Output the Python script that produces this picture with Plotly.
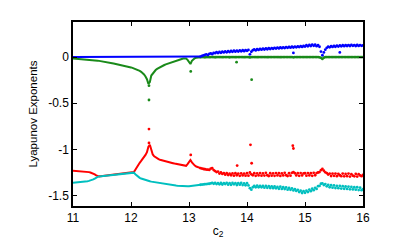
import numpy as np
import plotly.graph_objects as go

# c2 grid (11.00 .. 16.00, step 0.025)
c2 = np.round(np.linspace(11.0, 16.0, 201), 3)

lam1 = [  # blue
    0,0,0,0,0,0,0,0,0,0, 0,0,0,0,0,0,0,0,0,0, 0,0,0,0,0,0,0,0,0,0, 0,0,0,0,0,0,0,0,0,0,
    0,0,0,0,0,0,0,0,0,0, 0,0,0,0,0,0,0,0,0,0, 0,0,0,0,0,0,0,0,0,0, 0,0,0,0,0,0,0,0,0,0,
    0,0,0,0,0,0,0,0.002,0.006,0.012, 0.018,0.024,0.03,0.022,0.034,0.04,0.032,0.046,0.042,0.054,
    0.043,0.055,0.046,0.058,0.05,0.061,0.052,0.064,0.054,0.066, 0.057,0.069,0.059,0.07,0.06,0.072,0.062,0.074,0.064,0.076,
    0.068,0.078,0.03,0.058,0.074,0.082,0.072,0.085,0.078,0.088, 0.08,0.09,0.082,0.093,0.085,0.096,0.087,0.098,0.09,0.1,
    0.092,0.102,0.094,0.104,0.096,0.106,0.098,0.108,0.1,0.11, 0.102,0.112,0.104,0.114,0.106,0.116,0.108,0.118,0.11,0.12,
    0.114,0.128,0.116,0.132,0.12,0.136,0.122,0.134,0.118,0.13, 0.112,0.06,0.02,0.05,0.08,0.1,0.112,0.106,0.118,0.11,
    0.12,0.112,0.124,0.114,0.126,0.116,0.128,0.118,0.13,0.12, 0.13,0.12,0.132,0.122,0.13,0.12,0.131,0.121,0.13,0.122,
    0.126,
]

lam2 = [  # green
    -0.015,-0.016,-0.017,-0.018,-0.019,-0.02,-0.021,-0.022,-0.023,-0.025,
    -0.026,-0.028,-0.029,-0.031,-0.033,-0.035,-0.037,-0.039,-0.041,-0.043,
    -0.046,-0.048,-0.051,-0.054,-0.057,-0.06,-0.063,-0.066,-0.069,-0.072,
    -0.075,-0.078,-0.081,-0.085,-0.088,-0.092,-0.096,-0.1,-0.104,-0.108,
    -0.112,-0.117,-0.122,-0.128,-0.135,-0.142,-0.15,-0.16,-0.172,-0.188,
    -0.21,-0.24,-0.29,-0.27,-0.2,-0.175,-0.155,-0.14,-0.128,-0.118,
    -0.108,-0.1,-0.093,-0.086,-0.079,-0.073,-0.067,-0.061,-0.055,-0.05,
    -0.045,-0.04,-0.035,-0.03,-0.025,-0.02,-0.015,-0.012,-0.015,-0.03,
    -0.06,-0.075,-0.04,-0.022,-0.012,-0.008,-0.005,-0.003,-0.001,0,
    0,-0.002,0,0,-0.001,0,0,0,-0.002,0, 0,0,0,-0.001,0,0,0,0,-0.002,0,
    0,0,-0.001,0,0,0,0,0,-0.001,0,
    0,0,-0.004,0,0,0,0,-0.001,0,0, 0,0,0,0,-0.001,0,0,0,0,0,
    0,0,0,-0.001,0,0,0,0,0,0, 0,0,-0.003,0,0,0,0,0,0,0,
    0,0,0,0,0,0,0,0,0,0, -0.003,-0.008,-0.02,-0.006,0,0,0,0,0,0,
    0,0,0,0,0,0,0,0,0,0, 0,0,0,0,0,0,0,0,0,0,
    0,
]

lam3 = [  # red
    -1.23,-1.231,-1.232,-1.233,-1.234,-1.235,-1.236,-1.237,-1.239,-1.241,
    -1.243,-1.246,-1.25,-1.255,-1.262,-1.271,-1.282,-1.29,-1.292,-1.29,
    -1.288,-1.286,-1.285,-1.283,-1.281,-1.279,-1.278,-1.276,-1.274,-1.273,
    -1.271,-1.269,-1.267,-1.266,-1.264,-1.262,-1.26,-1.259,-1.257,-1.255,
    -1.253,-1.251,-1.245,-1.22,-1.19,-1.165,-1.145,-1.125,-1.105,-1.085,
    -1.06,-1.03,-0.97,-0.95,-1.02,-1.055,-1.075,-1.088,-1.098,-1.106,
    -1.112,-1.117,-1.121,-1.125,-1.129,-1.133,-1.137,-1.141,-1.145,-1.149,
    -1.153,-1.157,-1.161,-1.165,-1.169,-1.173,-1.177,-1.18,-1.178,-1.16,
    -1.13,-1.115,-1.14,-1.16,-1.175,-1.185,-1.192,-1.198,-1.203,-1.208,
    -1.212,-1.215,-1.218,-1.22,-1.222,-1.208,-1.204,-1.224,-1.235,-1.246,
    -1.24,-1.262,-1.25,-1.266,-1.256,-1.274,-1.258,-1.278,-1.262,-1.28,
    -1.26,-1.284,-1.258,-1.28,-1.262,-1.286,-1.26,-1.282,-1.262,-1.284,
    -1.258,-1.284,-1.25,-1.27,-1.28,-1.258,-1.286,-1.26,-1.282,-1.256,
    -1.285,-1.26,-1.283,-1.254,-1.28,-1.288,-1.258,-1.284,-1.26,-1.286,
    -1.256,-1.282,-1.258,-1.287,-1.26,-1.282,-1.254,-1.28,-1.288,-1.258,
    -1.284,-1.254,-1.246,-1.258,-1.282,-1.258,-1.286,-1.256,-1.282,-1.26,
    -1.258,-1.284,-1.256,-1.282,-1.258,-1.286,-1.254,-1.28,-1.256,-1.25,
    -1.245,-1.225,-1.212,-1.23,-1.248,-1.256,-1.272,-1.262,-1.288,-1.262,
    -1.286,-1.262,-1.29,-1.264,-1.28,-1.29,-1.262,-1.292,-1.266,-1.29,
    -1.262,-1.294,-1.268,-1.284,-1.292,-1.266,-1.294,-1.268,-1.282,-1.29,
    -1.276,
]

lam4 = [  # cyan
    -1.36,-1.359,-1.358,-1.357,-1.356,-1.355,-1.353,-1.351,-1.349,-1.347,
    -1.344,-1.341,-1.337,-1.332,-1.325,-1.316,-1.305,-1.297,-1.294,-1.292,
    -1.29,-1.288,-1.287,-1.285,-1.283,-1.281,-1.28,-1.278,-1.276,-1.275,
    -1.273,-1.271,-1.269,-1.268,-1.266,-1.264,-1.262,-1.261,-1.259,-1.257,
    -1.255,-1.253,-1.252,-1.268,-1.285,-1.298,-1.308,-1.316,-1.322,-1.328,
    -1.333,-1.337,-1.341,-1.345,-1.349,-1.352,-1.355,-1.358,-1.361,-1.364,
    -1.366,-1.369,-1.371,-1.374,-1.376,-1.378,-1.381,-1.383,-1.385,-1.387,
    -1.389,-1.391,-1.393,-1.395,-1.397,-1.398,-1.4,-1.401,-1.401,-1.4,
    -1.398,-1.396,-1.395,-1.393,-1.391,-1.389,-1.387,-1.385,-1.383,-1.381,
    -1.379,-1.377,-1.376,-1.374,-1.372,-1.368,-1.362,-1.372,-1.364,-1.376,
    -1.366,-1.378,-1.364,-1.38,-1.366,-1.376,-1.362,-1.382,-1.366,-1.384,
    -1.364,-1.378,-1.366,-1.386,-1.366,-1.382,-1.364,-1.386,-1.368,-1.388,
    -1.366,-1.39,-1.42,-1.436,-1.41,-1.396,-1.41,-1.392,-1.41,-1.394,
    -1.41,-1.396,-1.414,-1.396,-1.416,-1.398,-1.418,-1.4,-1.42,-1.402,
    -1.422,-1.406,-1.426,-1.404,-1.428,-1.41,-1.43,-1.412,-1.436,-1.418,
    -1.438,-1.422,-1.444,-1.43,-1.45,-1.438,-1.462,-1.448,-1.472,-1.452,
    -1.47,-1.448,-1.462,-1.436,-1.452,-1.426,-1.442,-1.416,-1.428,-1.398,
    -1.396,-1.372,-1.368,-1.386,-1.376,-1.4,-1.384,-1.41,-1.388,-1.414,
    -1.39,-1.418,-1.394,-1.42,-1.396,-1.424,-1.398,-1.426,-1.402,-1.428,
    -1.404,-1.432,-1.406,-1.434,-1.41,-1.436,-1.41,-1.44,-1.414,-1.442,
    -1.43,
]

# isolated stray points
blue_out_x = [14.8, 15.6]
blue_out_y = [0.045, 0.05]
green_out_x = [12.31, 12.31, 13.03, 13.82, 14.08]
green_out_y = [-0.31, -0.465, -0.155, -0.055, -0.245]
red_out_x = [12.31, 12.31, 13.03, 13.83, 14.06, 14.08, 14.79, 14.8]
red_out_y = [-0.78, -0.93, -1.06, -1.175, -0.95, -1.15, -0.96, -0.99]

x_ticks = [11, 12, 13, 14, 15, 16]
y_ticks = [0, -0.5, -1, -1.5]
y_tick_text = ["0", "-0.5", "-1", "-1.5"]

colors = {"blue": "#0000ff", "green": "#1a8a1a", "red": "#ff0000", "cyan": "#00bfbf"}

SPLIT = 89  # smooth regime up to c2 = 13.2

fig = go.Figure()

def add_series(vals, color):
    fig.add_trace(go.Scatter(x=c2[:SPLIT], y=vals[:SPLIT], mode="lines",
                             line=dict(color=color, width=2), showlegend=False,
                             hoverinfo="skip"))
    fig.add_trace(go.Scatter(x=c2[SPLIT - 1:], y=vals[SPLIT - 1:], mode="markers",
                             marker=dict(color=color, size=2.8), showlegend=False))

add_series(lam3, colors["red"])
add_series(lam4, colors["cyan"])
add_series(lam2, colors["green"])
add_series(lam1, colors["blue"])

for ox, oy, col in [(blue_out_x, blue_out_y, colors["blue"]),
                    (green_out_x, green_out_y, colors["green"]),
                    (red_out_x, red_out_y, colors["red"])]:
    fig.add_trace(go.Scatter(x=ox, y=oy, mode="markers",
                             marker=dict(color=col, size=2.8), showlegend=False))

axis_common = dict(showgrid=False, zeroline=False, showline=True, linecolor="black",
                   linewidth=1.5, mirror="ticks", ticks="inside", ticklen=4,
                   tickcolor="black", tickwidth=1, automargin=False,
                   tickfont=dict(family="Liberation Sans, Arial", size=12, color="black"))

# page body has an 8px default margin, so the figure is sized/placed to compensate
fig.update_layout(
    width=390, height=238,
    margin=dict(l=65, r=35, t=14, b=40),
    paper_bgcolor="white", plot_bgcolor="white",
    font=dict(family="Liberation Sans, Arial", color="black"),
    xaxis=dict(range=[11, 16], tickvals=x_ticks,
               title=dict(text="c<sub>2</sub>", standoff=2,
                          font=dict(family="Liberation Sans, Arial", size=12)),
               **axis_common),
    yaxis=dict(range=[-1.613, 0.38], tickvals=y_ticks, ticktext=y_tick_text,
               title=dict(text="Lyapunov Exponents", standoff=8,
                          font=dict(family="Liberation Sans, Arial", size=11.5)),
               **axis_common),
)

fig.write_html("out.html")
